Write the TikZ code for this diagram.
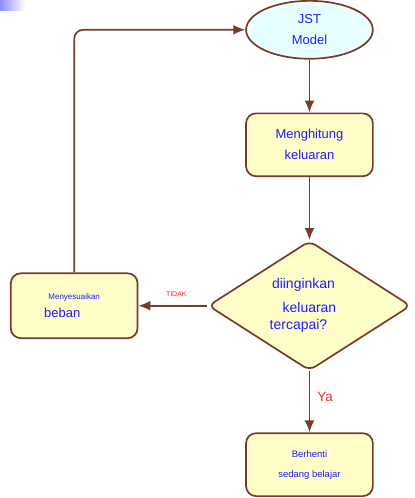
\documentclass[tikz,border=0pt]{standalone}
\usepackage{fontspec}
\setmainfont{Liberation Sans}
\usetikzlibrary{shapes.geometric,positioning,arrows.meta}

\definecolor{flowbrown}{RGB}{122,58,44}
\definecolor{flowyellow}{RGB}{255,253,200}
\definecolor{flowcyan}{RGB}{232,255,255}
\definecolor{flowblue}{RGB}{30,30,255}
\definecolor{flowred}{RGB}{255,40,40}

\begin{document}
\begin{tikzpicture}[x=1pt,y=-1pt,>={Latex[length=12pt,width=10pt]},
    line width=1.7pt,
    box/.style={rectangle,rounded corners=10pt,draw=flowbrown,fill=flowyellow,
      minimum width=127pt,minimum height=63pt,inner sep=0pt,align=center,
      text=flowblue,font=\fontsize{13}{15}\selectfont},
    term/.style={ellipse,draw=flowbrown,fill=flowcyan,minimum width=127pt,
      minimum height=58pt,inner sep=0pt,align=center,text=flowblue,
      font=\fontsize{13}{15}\selectfont},
    decide/.style={diamond,rounded corners=7pt,draw=flowbrown,fill=flowyellow,
      minimum width=203pt,minimum height=130pt,inner sep=0pt,shape aspect=1.56,
      align=center,text=flowblue,font=\fontsize{14}{16}\selectfont},
    flow/.style={->,draw=flowbrown},
    answer/.style={text=flowred,inner sep=0pt}]

  % corner mark
  \shade[left color=blue!45!white,right color=white] (0,0) rectangle (25,10);

  \node[term] (model) at (310,29) {JST\\[6pt]Model};
  \node[box] (hitung) [below=53pt of model] {Menghitung\\[6pt]keluaran};
  \node[decide] (cek) [below=63pt of hitung]
    {diinginkan\hspace*{12pt}\\[8pt]keluaran\\[1pt]tercapai?\hspace*{22pt}};
  \node[box,minimum height=65pt] (adjust) [left=69pt of cek]
    {{\fontsize{8}{10}\selectfont Menyesuaikan}\\[3pt]beban\hspace*{24pt}};
  \node[box,font=\fontsize{9.5}{11}\selectfont] (stop) [below=61pt of cek]
    {Berhenti\\[9pt]sedang belajar};

  \path (model) edge[flow] (hitung);
  \path (hitung) edge[flow] (cek);
  \path (cek) edge[flow] node[answer,pos=0.42,right=7pt,
      font=\fontsize{13.5}{15}\selectfont] {Ya} (stop)
        edge[flow] node[answer,pos=0.45,above=8pt,
      font=\fontsize{7}{8}\selectfont] {TIDAK} (adjust);
  \draw[flow,rounded corners=9pt] (adjust.north) |- (model.west);

  \useasboundingbox (0,0) rectangle (415,498);
\end{tikzpicture}
\end{document}
